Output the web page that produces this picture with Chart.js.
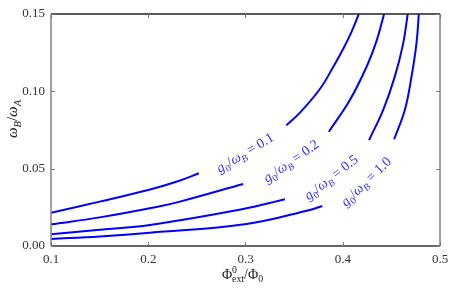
<!DOCTYPE html>
<html>
<head>
<meta charset="utf-8">
<script src="https://cdn.jsdelivr.net/npm/chart.js@4"></script>
<style>
  html, body { margin: 0; padding: 0; background: #fff; }
  #wrap { width: 463px; height: 290px; }
</style>
</head>
<body>
<div id="wrap"><canvas id="chart"></canvas></div>
<script>
// coupling ratios g0/wB, one curve each
const ratios = ['0.1', '0.2', '0.5', '1.0'];

// each curve has a lower and an upper branch, split by null where the label sits
const x01 = [0.10, 0.15, 0.20, 0.232, 0.252, null, 0.342, 0.356, 0.3765, 0.390, 0.4005, 0.409, 0.4165];
const y01 = [0.0215, 0.0287, 0.0362, 0.0422, 0.047, null, 0.078, 0.0862, 0.1015, 0.1155, 0.1275, 0.1385, 0.150];

const x02 = [0.10, 0.15, 0.212, 0.2326, 0.2976, null, 0.3857, 0.4073, 0.4245, 0.4347, 0.4425];
const y02 = [0.0140, 0.0185, 0.0257, 0.0287, 0.0401, null, 0.0739, 0.0944, 0.1159, 0.1325, 0.150];

const x05 = [0.10, 0.15, 0.2017, 0.2976, 0.3405, null, 0.427, 0.4415, 0.4535, 0.462, 0.4668];
const y05 = [0.0076, 0.0105, 0.0136, 0.0239, 0.0302, null, 0.0685, 0.0879, 0.1095, 0.1305, 0.150];

const x10 = [0.10, 0.15, 0.2017, 0.301, 0.366, 0.379, null, 0.4528, 0.4638, 0.4707, 0.4758, 0.4782];
const y10 = [0.0045, 0.0062, 0.0086, 0.0142, 0.0233, 0.0259, null, 0.069, 0.0879, 0.1095, 0.131, 0.150];

const xTicks = [0.1, 0.2, 0.3, 0.4, 0.5];
const yTicks = [0.00, 0.05, 0.10, 0.15];

const curveX = [x01, x02, x05, x10];
const curveY = [y01, y02, y05, y10];

const SERIF = '"Liberation Serif", "DejaVu Serif", serif';

// where the inline labels go (data coords) and their slant
const labelSpots = [
  { x: 0.2994, y: 0.0605, angle: -31 },
  { x: 0.3467, y: 0.0550, angle: -35 },
  { x: 0.3878, y: 0.0445, angle: -38 },
  { x: 0.4237, y: 0.0418, angle: -44 }
];

// draws a run of text pieces (italic / sub / sup), centred on x,y
function richText(ctx, parts, x, y, angle, size, color) {
  ctx.save();
  ctx.translate(x, y);
  ctx.rotate(angle * Math.PI / 180);
  ctx.fillStyle = color;
  ctx.textAlign = 'left';
  ctx.textBaseline = 'alphabetic';
  let w = 0, prevX = 0;
  const items = parts.map(p => {
    const fs = (p.sub || p.sup) ? size * 0.7 : size;
    const font = (p.it ? 'italic ' : '') + fs + 'px ' + SERIF;
    ctx.font = font;
    const pw = ctx.measureText(p.t).width;
    const ix = p.back ? prevX : w;
    prevX = ix;
    w = Math.max(w, ix + pw);
    const dy = p.sub ? size * 0.25 : (p.sup ? -size * 0.38 : 0);
    return { t: p.t, font, x: ix, dy };
  });
  items.forEach(it => {
    ctx.font = it.font;
    ctx.fillText(it.t, it.x - w / 2, size * 0.33 + it.dy);
  });
  ctx.restore();
}

const decorations = {
  id: 'decorations',
  afterDraw(chart) {
    const ctx = chart.ctx;
    const { left, right, top, bottom } = chart.chartArea;
    const xs = chart.scales.x, ys = chart.scales.y;

    // frame
    ctx.save();
    ctx.lineWidth = 1.5;
    ctx.strokeStyle = '#222';
    ctx.beginPath(); ctx.moveTo(left, top); ctx.lineTo(right, top); ctx.stroke();
    ctx.strokeStyle = '#333';
    ctx.beginPath(); ctx.moveTo(left, bottom); ctx.lineTo(right, bottom); ctx.stroke();
    ctx.strokeStyle = '#808080';
    ctx.beginPath(); ctx.moveTo(left, top); ctx.lineTo(left, bottom); ctx.stroke();
    ctx.beginPath(); ctx.moveTo(right, top); ctx.lineTo(right, bottom); ctx.stroke();

    // inward ticks on all four sides
    ctx.lineWidth = 1;
    ctx.strokeStyle = '#777';
    xs.ticks.forEach(t => {
      const px = Math.round(xs.getPixelForValue(t.value)) + 0.5;
      ctx.beginPath();
      ctx.moveTo(px, bottom); ctx.lineTo(px, bottom - 4);
      ctx.moveTo(px, top); ctx.lineTo(px, top + 4);
      ctx.stroke();
    });
    ys.ticks.forEach(t => {
      const py = Math.round(ys.getPixelForValue(t.value)) + 0.5;
      ctx.beginPath();
      ctx.moveTo(left, py); ctx.lineTo(left + 4, py);
      ctx.moveTo(right, py); ctx.lineTo(right - 4, py);
      ctx.stroke();
    });
    ctx.restore();

    // axis titles
    richText(ctx, [
      { t: '\u03A6' }, { t: '0', sup: true }, { t: 'ext', sub: true, back: true },
      { t: '/\u03A6' }, { t: '0', sub: true }
    ], (left + right) / 2 - 3, 274, 0, 14, '#222');
    richText(ctx, [
      { t: '\u03C9', it: true }, { t: 'B', it: true, sub: true },
      { t: '/' }, { t: '\u03C9', it: true }, { t: 'A', it: true, sub: true }
    ], 12, 119, -90, 15, '#222');

    // inline curve labels
    ratios.forEach((r, i) => {
      const s = labelSpots[i];
      richText(ctx, [
        { t: 'g', it: true }, { t: '0', sub: true }, { t: '/' },
        { t: '\u03C9', it: true }, { t: 'B', it: true, sub: true },
        { t: ' = ' + r }
      ], xs.getPixelForValue(s.x), ys.getPixelForValue(s.y), s.angle, 14, '#3030ff');
    });
  }
};

const datasets = ratios.map((r, i) => ({
  label: 'g0/wB = ' + r,
  data: curveX[i].map((x, j) => ({ x: x === null ? NaN : x, y: curveY[i][j] })),
  borderColor: '#0000ff',
  borderWidth: 2,
  pointRadius: 0,
  fill: false,
  spanGaps: false,
  tension: 0.4
}));

new Chart(document.getElementById('chart'), {
  type: 'line',
  data: { datasets: datasets },
  options: {
    responsive: true,
    maintainAspectRatio: false,
    animation: false,
    devicePixelRatio: 1,
    layout: { padding: { top: 14, right: 23, left: 0, bottom: 0 } },
    plugins: { legend: { display: false }, tooltip: { enabled: false } },
    scales: {
      x: {
        type: 'linear',
        min: 0.1, max: 0.5,
        afterBuildTicks: s => { s.ticks = xTicks.map(v => ({ value: v })); },
        afterFit: s => { s.height = 44; },
        grid: { display: false, drawTicks: false },
        border: { display: false },
        ticks: {
          padding: 6,
          color: '#333',
          font: { family: SERIF, size: 13 },
          callback: v => v.toFixed(1)
        }
      },
      y: {
        type: 'linear',
        min: 0, max: 0.15,
        afterBuildTicks: s => { s.ticks = yTicks.map(v => ({ value: v })); },
        afterFit: s => { s.width = 51; },
        grid: { display: false, drawTicks: false },
        border: { display: false },
        ticks: {
          padding: 6,
          color: '#333',
          font: { family: SERIF, size: 13 },
          callback: v => v.toFixed(2)
        }
      }
    }
  },
  plugins: [decorations]
});
</script>
</body>
</html>
